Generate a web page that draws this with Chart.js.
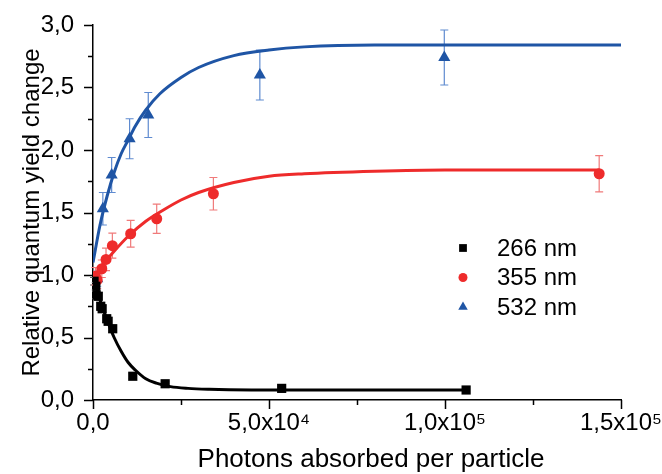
<!DOCTYPE html>
<html>
<head>
<meta charset="utf-8">
<script src="https://cdn.jsdelivr.net/npm/chart.js@4.4.1/dist/chart.umd.min.js"></script>
<style>
    html, body { margin: 0; padding: 0; background: #fff; }
</style>
</head>
<body>
<canvas id="mycanvas" width="662" height="474"></canvas>
<script>
// measured points (photons absorbed, relative change, error)
var x266 = [300, 800, 900, 1500, 2200, 2600, 3900, 4300, 5600, 11300, 20500, 53600, 106000];
var y266 = [0.95, 0.91, 0.84, 0.83, 0.75, 0.73, 0.65, 0.63, 0.57, 0.19, 0.13, 0.093, 0.08];
var e266 = [0.03, 0.03, 0.03, 0.03, 0.03, 0.03, 0.03, 0.03, 0.03, 0.02, 0.02, 0, 0];

var x355 = [700, 1200, 2500, 3700, 5500, 10700, 18100, 34200, 143800];
var y355 = [0.99, 0.96, 1.05, 1.125, 1.235, 1.33, 1.45, 1.65, 1.81];
var e355 = [0.07, 0.07, 0.07, 0.09, 0.10, 0.107, 0.117, 0.13, 0.145];

var x532 = [1200, 2800, 5300, 10400, 15700, 47400, 99800];
var y532 = [0.97, 1.53, 1.80, 2.09, 2.28, 2.60, 2.74];
var e532 = [0.06, 0.13, 0.14, 0.16, 0.18, 0.20, 0.22];

// fitted curves
var fit266X = [0, 2000, 4000, 6000, 8000, 10000, 12000, 15000, 18000, 22000, 27000, 33000, 45000, 70000, 106000];
var fit266Y = [1.0, 0.80, 0.64, 0.50, 0.39, 0.30, 0.24, 0.17, 0.135, 0.107, 0.093, 0.086, 0.081, 0.08, 0.08];
var fit355X = [0, 3000, 6000, 10000, 15000, 20000, 25000, 30000, 40000, 50000, 60000, 80000, 100000, 143800];
var fit355Y = [0.98, 1.09, 1.19, 1.31, 1.43, 1.52, 1.60, 1.66, 1.74, 1.79, 1.81, 1.83, 1.84, 1.84];
var fit532X = [0, 2000, 4000, 6000, 8000, 10000, 12000, 15000, 19000, 25000, 30000, 40000, 50000, 60000, 80000, 100000, 150000];
var fit532Y = [1.1, 1.40, 1.63, 1.82, 1.97, 2.08, 2.19, 2.32, 2.45, 2.58, 2.66, 2.755, 2.80, 2.825, 2.84, 2.84, 2.84];

var seriesNames = ['266 nm', '355 nm', '532 nm'];
var xTickLabels = ['0,0', '5,0x10\u2074', '1,0x10\u2075', '1,5x10\u2075'];
var yTickLabels = ['0,0', '0,5', '1,0', '1,5', '2,0', '2,5', '3,0'];
var xTitle = 'Photons absorbed per particle';
var yTitle = 'Relative quantum yield change';

var BLACK = '#000000', RED = '#ee2b2b', BLUE = '#1f55a5';
var FONT = "'Liberation Sans', Arial, sans-serif";

function pts(xs, ys) {
    var out = [];
    for (var i = 0; i < xs.length; i++) out.push({x: xs[i], y: ys[i]});
    return out;
}

var errorBars = {
    id: 'errorBars',
    beforeDatasetsDraw: function(chart) {
        var ctx = chart.ctx, xs = chart.scales.x, ys = chart.scales.y;
        var sets = [[x266, y266, e266, '#555555'], [x355, y355, e355, '#f07a7a'], [x532, y532, e532, '#5f8bd0']];
        ctx.save();
        ctx.lineWidth = 1.2;
        sets.forEach(function(s) {
            ctx.strokeStyle = s[3];
            for (var i = 0; i < s[0].length; i++) {
                if (!s[2][i]) continue;
                var px = xs.getPixelForValue(s[0][i]);
                var top = ys.getPixelForValue(s[1][i] + s[2][i]);
                var bot = ys.getPixelForValue(s[1][i] - s[2][i]);
                ctx.beginPath();
                ctx.moveTo(px, top); ctx.lineTo(px, bot);
                ctx.moveTo(px - 4, top); ctx.lineTo(px + 4, top);
                ctx.moveTo(px - 4, bot); ctx.lineTo(px + 4, bot);
                ctx.stroke();
            }
        });
        ctx.restore();
    }
};

var axisTicks = {
    id: 'axisTicks',
    afterDraw: function(chart) {
        var ctx = chart.ctx, xs = chart.scales.x, ys = chart.scales.y, a = chart.chartArea;
        ctx.save();
        ctx.strokeStyle = '#000';
        ctx.lineWidth = 1.5;
        ctx.beginPath();
        for (var v = 0; v <= 150000; v += 25000) {
            var px = Math.round(xs.getPixelForValue(v)) + 0.5;
            ctx.moveTo(px, a.bottom);
            ctx.lineTo(px, a.bottom + (v % 50000 === 0 ? 9 : 5));
        }
        for (var k = 0; k <= 12; k++) {
            var py = Math.round(ys.getPixelForValue(k * 0.25)) + 0.5;
            ctx.moveTo(a.left, py);
            ctx.lineTo(a.left - (k % 2 === 0 ? 9 : 5), py);
        }
        ctx.stroke();

        // x title sits a little right of the plot centre in the original
        ctx.fillStyle = '#000';
        ctx.font = '26px ' + FONT;
        ctx.textAlign = 'center';
        ctx.textBaseline = 'middle';
        ctx.fillText(xTitle, 371, 460);
        ctx.restore();
    }
};

var legendBox = {
    id: 'legendBox',
    afterDraw: function(chart) {
        var ctx = chart.ctx;
        var styles = [['rect', 5.5, BLACK], ['circle', 4.5, RED], ['triangle', 5.5, BLUE]];
        ctx.save();
        ctx.font = '24px ' + FONT;
        ctx.textBaseline = 'middle';
        for (var i = 0; i < seriesNames.length; i++) {
            var y = 248 + i * 29.5;
            ctx.fillStyle = styles[i][2];
            Chart.helpers.drawPoint(ctx, {pointStyle: styles[i][0], radius: styles[i][1], rotation: 0, borderWidth: 0}, 463, y);
            ctx.fillStyle = '#000';
            ctx.fillText(seriesNames[i], 497, y + 1);
        }
        ctx.restore();
    }
};

var ctx = document.getElementById('mycanvas');

var chart = new Chart(ctx, {
    type: 'scatter',
    data: {
        datasets: [
            {label: 'fit 266', data: pts(fit266X, fit266Y), showLine: true, borderColor: BLACK, borderWidth: 3, pointRadius: 0, cubicInterpolationMode: 'monotone', order: 5},
            {label: 'fit 355', data: pts(fit355X, fit355Y), showLine: true, borderColor: RED, borderWidth: 3, pointRadius: 0, cubicInterpolationMode: 'monotone', order: 5},
            {label: 'fit 532', data: pts(fit532X, fit532Y), showLine: true, borderColor: BLUE, borderWidth: 3, pointRadius: 0, cubicInterpolationMode: 'monotone', order: 5},
            {label: seriesNames[0], data: pts(x266, y266), pointStyle: 'rect', pointRadius: 6.5, backgroundColor: BLACK, borderWidth: 0, order: 1},
            {label: seriesNames[1], data: pts(x355, y355), pointStyle: 'circle', pointRadius: 5.5, backgroundColor: RED, borderWidth: 0, order: 1},
            {label: seriesNames[2], data: pts(x532, y532), pointStyle: 'triangle', pointRadius: 7, backgroundColor: BLUE, borderWidth: 0, order: 1}
        ]
    },
    options: {
        responsive: false,
        animation: false,
        devicePixelRatio: 1,
        layout: {padding: {top: 25, right: 41, left: 0, bottom: 0}},
        plugins: {legend: {display: false}, tooltip: {enabled: false}},
        scales: {
            x: {
                type: 'linear', min: 0, max: 150000,
                grid: {display: false},
                border: {display: true, color: '#000', width: 1.5},
                ticks: {
                    stepSize: 50000, padding: 1, color: '#000', maxRotation: 0,
                    font: {family: FONT, size: 24},
                    callback: function(v) { return xTickLabels[Math.round(v / 50000)]; }
                },
                title: {display: false},
                afterFit: function(s) { s.height = 74; s.paddingLeft = 0; s.paddingRight = 0; }
            },
            y: {
                type: 'linear', min: 0, max: 3,
                grid: {display: false},
                border: {display: true, color: '#000', width: 1.5},
                ticks: {
                    stepSize: 0.5, padding: 11, color: '#000',
                    font: {family: FONT, size: 24},
                    callback: function(v) { return yTickLabels[Math.round(v / 0.5)]; }
                },
                title: {display: true, text: yTitle, color: '#000', font: {family: FONT, size: 24}, padding: {top: 18, bottom: 0}},
                afterFit: function(s) { s.width = 93; s.paddingTop = 0; s.paddingBottom = 0; }
            }
        }
    },
    plugins: [errorBars, axisTicks, legendBox]
});
</script>
</body>
</html>
